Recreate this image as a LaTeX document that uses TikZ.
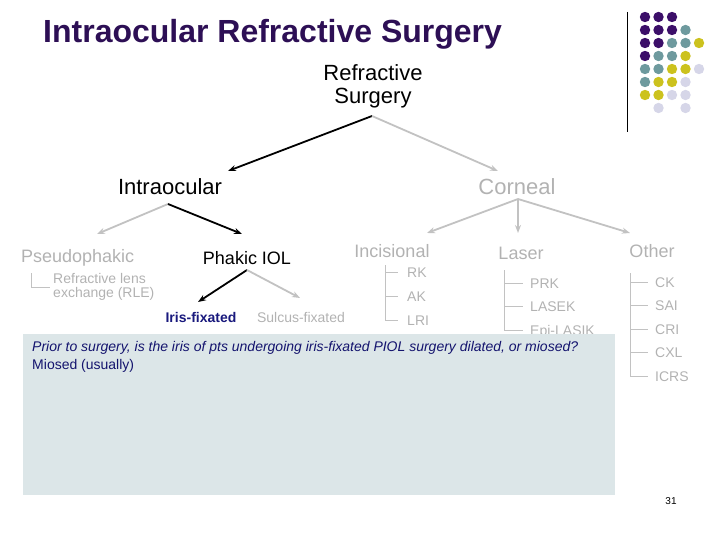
\documentclass[tikz,border=0pt]{standalone}
\usepackage{fontspec}
\setmainfont{Liberation Sans}
\usetikzlibrary{arrows.meta,positioning,calc}
\definecolor{titlepurple}{RGB}{45,15,85}
\definecolor{dotpurple}{RGB}{60,15,105}
\definecolor{dotteal}{RGB}{110,154,158}
\definecolor{dotyellow}{RGB}{204,194,30}
\definecolor{dotlav}{RGB}{214,214,232}
\definecolor{fadegray}{RGB}{178,178,178}
\definecolor{linegray}{RGB}{194,194,194}
\definecolor{boxfill}{RGB}{220,230,232}
\definecolor{navy}{RGB}{20,20,110}
\definecolor{irisblue}{RGB}{25,25,125}

\begin{document}
\begin{tikzpicture}[x=1pt,y=-1pt,
    big/.style={font=\fontsize{22}{23}\selectfont},
    mid/.style={font=\fontsize{18}{19}\selectfont},
    small/.style={font=\fontsize{14}{13.5}\selectfont},
    faded/.style={text=fadegray},
    item/.style={small,faded,anchor=west,text height=10pt,text depth=0pt},
    blk/.style={line width=1.8pt,-{Stealth[length=8pt,width=6pt]}},
    gry/.style={blk,draw=linegray},
    tree/.style={line width=0.8pt,draw=linegray}]
    \useasboundingbox (0,0) rectangle (720,540);
    % title and logo
    \node[anchor=base west,inner sep=0pt,text=titlepurple,
      font=\fontsize{32}{34}\selectfont\bfseries] (title) at (43,43)
      {Intraocular Refractive Surgery};
    \draw[line width=1pt] (627,12) -- (627,132);
    \foreach \row [count=\j] in {
        {dotpurple,dotpurple,dotpurple},
        {dotpurple,dotpurple,dotpurple,dotteal},
        {dotpurple,dotpurple,dotteal,dotteal,dotyellow},
        {dotpurple,dotteal,dotteal,dotyellow},
        {dotteal,dotteal,dotyellow,dotyellow,dotlav},
        {dotteal,dotyellow,dotyellow,dotlav},
        {dotyellow,dotyellow,dotlav,dotlav},
        {none,dotlav,none,dotlav}}
      \foreach \col [count=\i] in \row
        \path[fill=\col] ({645+13.5*(\i-1)},{17+13*(\j-1)}) circle (5.2);
    % top of the tree
    \node[big,align=center] (refr) at (373,86) {Refractive\\Surgery};
    \node[big,anchor=base] (intra) at (170,195) {Intraocular};
    \node[big,anchor=base,faded] (corn) at (517,195) {Corneal};
    \coordinate (rsfork) at (372,116);
    \coordinate (intra-in) at (228,171);
    \coordinate (corn-in) at (498,171);
    \draw[blk] (rsfork) -- (intra-in);
    \draw[gry] (rsfork) -- (corn-in);
    % intraocular branch
    \node[mid,anchor=base west,faded] (pseudo) at (17.5,262) {Pseudophakic};
    \node[mid,anchor=base] (phakic) at (247,264) {Phakic IOL};
    \node[small,faded,anchor=west,align=left] (rle) at (49.7,287)
      {Refractive lens\\exchange (RLE)};
    \node[anchor=base,text=irisblue,font=\fontsize{14}{16}\selectfont\bfseries]
      (iris) at (201,322) {Iris-fixated};
    \node[small,anchor=base,faded] (sulcus) at (301,322) {Sulcus-fixated};
    \coordinate (iofork) at (168,204);
    \coordinate (pseudo-in) at (97,234);
    \coordinate (phakic-in) at (242,234);
    \draw[gry] (iofork) -- (pseudo-in);
    \draw[blk] (iofork) -- (phakic-in);
    \coordinate (phfork) at (247,270);
    \coordinate (iris-in) at (198,302);
    \coordinate (sulcus-in) at (300,298);
    \draw[blk] (phfork) -- (iris-in);
    \draw[gry] (phfork) -- (sulcus-in);
    \coordinate (pstop) at (31,273);
    \draw[tree] (pstop) |- (rle.west);
    % corneal branch
    \node[mid,anchor=base,faded] (incis) at (392,258) {Incisional};
    \node[mid,anchor=base,faded] (laser) at (521,259) {Laser};
    \node[mid,anchor=base,faded] (other) at (652,258) {Other};
    \coordinate (cofork) at (518,199);
    \coordinate (incis-in) at (427,233);
    \coordinate (laser-in) at (518,233);
    \coordinate (other-in) at (630,233);
    \foreach \t in {incis-in,laser-in,other-in}
      \draw[gry] (cofork) -- (\t);
    % lists
    \node[item] (rk) at (403.7,272) {RK};
    \node[item] (ak) at (403.7,296) {AK};
    \node[item] (lri) at (403.7,320) {LRI};
    \coordinate (inctop) at (385,265);
    \foreach \n in {rk,ak,lri}
      \draw[tree] (inctop) |- ([xshift=-6pt]\n.west);
    \node[item] (prk) at (526.7,283) {PRK};
    \node[item] (lasek) at (526.7,306) {LASEK};
    \node[item] (epi) at (526.7,330) {Epi-LASIK};
    \coordinate (lastop) at (504,270);
    \foreach \n in {prk,lasek,epi}
      \draw[tree] (lastop) |- ([xshift=-4pt]\n.west);
    \node[item] (ck) at (651.7,282) {CK};
    \node[item] (sai) at (651.7,305.5) {SAI};
    \node[item] (cri) at (651.7,329) {CRI};
    \node[item] (cxl) at (651.7,352.5) {CXL};
    \node[item] (icrs) at (651.7,376) {ICRS};
    \coordinate (othtop) at (630,273);
    \foreach \n in {ck,sai,cri,cxl,icrs}
      \draw[tree] (othtop) |- ([xshift=-4pt]\n.west);
    % question box
    \fill[boxfill] (23,334) rectangle (615,495);
    \node[anchor=base west,text=navy,font=\fontsize{14}{16}\selectfont\itshape]
      (quest) at (28.7,351)
      {Prior to surgery, is the iris of pts undergoing iris-fixated PIOL surgery dilated, or miosed?};
    \node[anchor=base west,small,text=navy] (answer) at (28.7,369) {Miosed (usually)};
    \node[font=\fontsize{10}{12}\selectfont] (pnum) at (671,501) {31};
\end{tikzpicture}
\end{document}
